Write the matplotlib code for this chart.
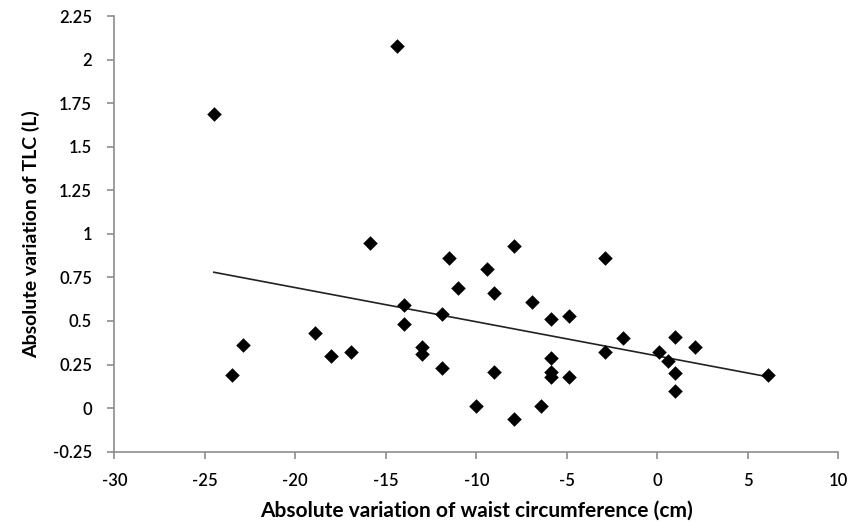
import numpy as np
import matplotlib
matplotlib.use("Agg")
import matplotlib.pyplot as plt
from matplotlib.ticker import FuncFormatter

# waist circumference change (cm) vs TLC change (L)
waist = [-24.5, -14.4, -15.9, -11.5, -11.0, -14.0, -11.9, -14.0, -18.9, -22.9,
         -16.9, -18.0, -13.0, -13.0, -11.9, -23.5, -10.0,
         -7.9, -9.4, -9.0, -6.9, -4.9, -5.9, -2.9, -1.9, -2.9, 0.1,
         0.6, 1.0, 2.1, 1.0, 1.0, 6.1, -5.9, -5.9, -5.9, -4.9,
         -9.0, -7.9, -6.4]
tlc = [1.69, 2.08, 0.95, 0.86, 0.69, 0.59, 0.54, 0.48, 0.43, 0.36,
       0.32, 0.30, 0.35, 0.31, 0.23, 0.19, 0.01,
       0.93, 0.80, 0.66, 0.61, 0.53, 0.51, 0.86, 0.40, 0.32, 0.32,
       0.27, 0.41, 0.35, 0.20, 0.10, 0.19, 0.29, 0.21, 0.18, 0.18,
       0.21, -0.06, 0.01]

xticks = [-30, -25, -20, -15, -10, -5, 0, 5, 10]
yticks = [-0.25, 0, 0.25, 0.5, 0.75, 1, 1.25, 1.5, 1.75, 2, 2.25]

plt.rcParams['font.family'] = ['Lato', 'DejaVu Sans']
plt.rcParams['axes.unicode_minus'] = False

fig = plt.figure(figsize=(8.62, 5.22), dpi=100)
ax = fig.add_axes([0.1326, 0.1347, 0.8399, 0.8346])

x = np.array(waist)
y = np.array(tlc)
ax.scatter(x, y, marker='D', s=55, color='black', zorder=3, linewidths=0)

# linear trend line across the data range
k, b = np.polyfit(x, y, 1)
xl = np.array([x.min(), x.max()])
ax.plot(xl, k * xl + b, color='#222222', lw=1.2, zorder=2)

ax.set_xlim(-30, 10)
ax.set_ylim(-0.25, 2.25)
ax.set_xticks(xticks)
ax.set_yticks(yticks)
ax.yaxis.set_major_formatter(FuncFormatter(lambda v, p: f'{v:g}'))

for side in ['top', 'right']:
    ax.spines[side].set_visible(False)
for side in ['left', 'bottom']:
    ax.spines[side].set_color('#8c8c8c')
    ax.spines[side].set_linewidth(1.2)
ax.tick_params(direction='out', length=5, width=1.2, color='#8c8c8c',
               labelsize=12, labelcolor='black')
ax.tick_params(axis='x', pad=10)
ax.tick_params(axis='y', pad=11)
for lbl in ax.get_xticklabels() + ax.get_yticklabels():
    lbl.set_fontweight('semibold')

ax.set_xlabel('Absolute variation of waist circumference (cm)', fontsize=15,
              fontweight='bold', labelpad=9)
ax.set_ylabel('Absolute variation of TLC (L)', fontsize=14,
              fontweight='bold', labelpad=9)

fig.savefig('out.png', dpi=100)
